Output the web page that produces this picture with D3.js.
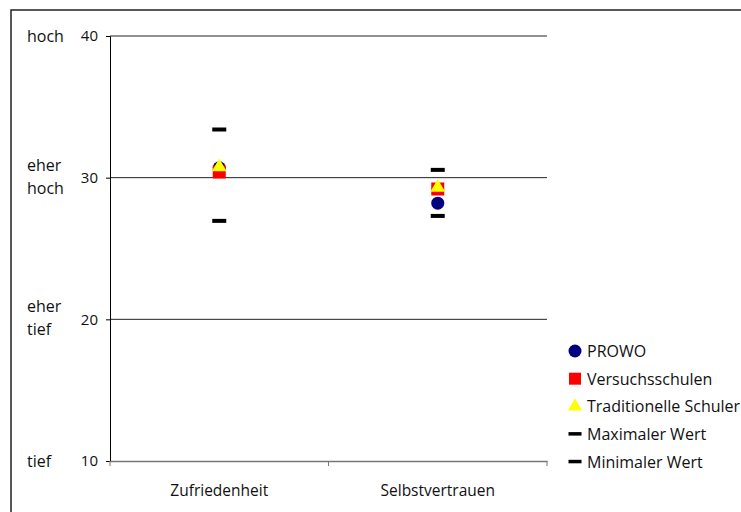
<!DOCTYPE html>
<html><head><meta charset="utf-8">
<script src="https://cdn.jsdelivr.net/npm/d3@7"></script>
<style>body{margin:0;background:#fff;} svg{display:block;font-family:"Open Sans",sans-serif;}</style>
</head><body>
<svg id="c" width="741" height="512"></svg>
<script>
const categories = ["Zufriedenheit", "Selbstvertrauen"];
const prowo = [30.7, 28.2];
const versuchsschulen = [30.4, 29.2];
const traditionelle = [30.75, 29.3];
const maxWert = [33.4, 30.55];
const minWert = [26.95, 27.3];
const yTicks = [10, 20, 30, 40];
const yLabels = [
  {v: 40, lines: ["hoch"]},
  {v: 30, lines: ["eher", "hoch"]},
  {v: 20, lines: ["eher", "tief"]},
  {v: 10, lines: ["tief"]}
];
const legendItems = ["PROWO", "Versuchsschulen", "Traditionelle Schuler", "Maximaler Wert", "Minimaler Wert"];

const svg = d3.select("#c");
svg.append("rect").attr("x", 11).attr("y", 10).attr("width", 740).attr("height", 520)
  .attr("fill", "none").attr("stroke", "#222").attr("stroke-width", 1.5);

const x = d3.scaleBand().domain(categories).range([110, 547]);
const y = d3.scaleLinear().domain([10, 40]).range([461, 36]);

// gridlines
svg.append("g").selectAll("line").data(yTicks.filter(d => d > 10)).join("line")
  .attr("x1", 110).attr("x2", 547).attr("y1", d => y(d)).attr("y2", d => y(d))
  .attr("stroke", "#222").attr("stroke-width", 1);

// y axis
const ya = svg.append("g").attr("transform", "translate(110,0)")
  .call(d3.axisLeft(y).tickValues(yTicks).tickSize(4).tickPadding(8).tickFormat(d3.format("d")));
ya.select(".domain").attr("stroke", "#000");
ya.selectAll(".tick line").attr("stroke", "#000");
ya.selectAll("text").attr("font-family", "Open Sans").attr("font-size", 15).attr("fill", "#111");

// x axis
const xa = svg.append("g").attr("transform", "translate(0,461)")
  .call(d3.axisBottom(x).tickSize(0).tickPadding(24));
xa.select(".domain").attr("stroke", "#777").attr("stroke-width", 1.5);
xa.selectAll("text").attr("font-family", "Open Sans").attr("font-size", 15.5).attr("fill", "#111");
// band separators ticks
svg.append("g").selectAll("line").data([0, 1, 2]).join("line")
  .attr("x1", i => 110 + i * x.step()).attr("x2", i => 110 + i * x.step())
  .attr("y1", 461).attr("y2", 466).attr("stroke", "#777");

// y side labels
const yl = svg.append("g");
yLabels.forEach(l => {
  const n = l.lines.length;
  l.lines.forEach((t, i) => {
    yl.append("text").attr("x", 27)
      .attr("y", y(l.v) + (n === 1 ? 6 : (i === 0 ? -7 : 16)))
      .attr("font-size", 16).attr("fill", "#111").text(t);
  });
});

const cx = d => x(d) + x.bandwidth() / 2;
const dash = (sel, vals) => sel.selectAll("rect").data(categories).join("rect")
  .attr("x", d => cx(d) - 7).attr("y", (d, i) => y(vals[i]) - 2)
  .attr("width", 14).attr("height", 4).attr("fill", "#000");

dash(svg.append("g"), maxWert);
dash(svg.append("g"), minWert);

svg.append("g").selectAll("circle").data(categories).join("circle")
  .attr("cx", cx).attr("cy", (d, i) => y(prowo[i])).attr("r", 6.5).attr("fill", "#000080");
svg.append("g").selectAll("rect").data(categories).join("rect")
  .attr("x", d => cx(d) - 6.5).attr("y", (d, i) => y(versuchsschulen[i]) - 6.5)
  .attr("width", 13).attr("height", 13).attr("fill", "#ff0000");
const tri = d3.symbol().type(d3.symbolTriangle).size(95);
svg.append("g").selectAll("path").data(categories).join("path")
  .attr("transform", (d, i) => `translate(${cx(d)},${y(traditionelle[i])})`)
  .attr("d", tri).attr("fill", "#ffff00");

// legend
const lg = svg.append("g");
legendItems.forEach((t, i) => {
  const ly = 351 + i * 27.7;
  const g = lg.append("g").attr("transform", `translate(575,${ly})`);
  if (i === 0) g.append("circle").attr("r", 6.5).attr("fill", "#000080");
  else if (i === 1) g.append("rect").attr("x", -6).attr("y", -6).attr("width", 12).attr("height", 12).attr("fill", "#ff0000");
  else if (i === 2) g.append("path").attr("d", d3.symbol().type(d3.symbolTriangle).size(85)).attr("fill", "#ffff00");
  else g.append("rect").attr("x", -6.5).attr("y", -2).attr("width", 13).attr("height", 3.5).attr("fill", "#000");
  g.append("text").attr("x", 12).attr("y", 6).attr("font-size", 16).attr("fill", "#111").text(t);
});
</script>
</body></html>
